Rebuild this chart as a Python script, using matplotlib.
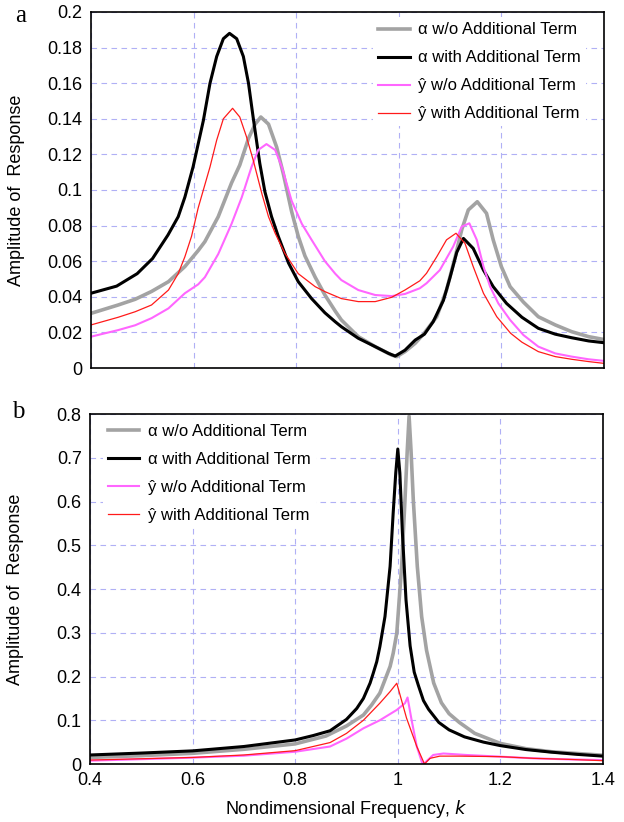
import matplotlib
matplotlib.use("Agg")
import matplotlib.pyplot as plt

plt.rcParams['font.family'] = ['Liberation Sans', 'DejaVu Sans']

# ---- panel a (top) ----
k_a_gray = [0.40, 0.453, 0.486, 0.518, 0.551, 0.583, 0.609, 0.622, 0.648, 0.674, 0.690, 0.707,
            0.720, 0.731, 0.746, 0.762, 0.775, 0.791, 0.804, 0.817, 0.837, 0.856, 0.876, 0.888,
            0.921, 0.954, 0.986, 0.996, 1.012, 1.032, 1.048, 1.074, 1.093, 1.110, 1.1225, 1.1355,
            1.153, 1.171, 1.184, 1.200, 1.217, 1.243, 1.272, 1.305, 1.337, 1.37, 1.40]
amp_a_gray = [0.0307, 0.0354, 0.0386, 0.043, 0.0485, 0.057, 0.066, 0.071, 0.085, 0.104, 0.114, 0.129,
              0.137, 0.141, 0.137, 0.124, 0.109, 0.088, 0.074, 0.063, 0.051, 0.041, 0.032, 0.027,
              0.0176, 0.012, 0.0073, 0.0064, 0.0092, 0.0139, 0.019, 0.0288, 0.0438, 0.0625, 0.0775, 0.0888,
              0.0934, 0.0869, 0.072, 0.0569, 0.0457, 0.037, 0.0288, 0.0242, 0.0204, 0.0176, 0.0160]

k_a_black = [0.40, 0.45, 0.49, 0.52, 0.55, 0.57, 0.583, 0.599, 0.619, 0.632, 0.645, 0.658, 0.670,
             0.684, 0.697, 0.707, 0.716, 0.729, 0.739, 0.752, 0.765, 0.785, 0.804, 0.830, 0.856,
             0.876, 0.888, 0.921, 0.954, 0.980, 0.993, 1.012, 1.032, 1.050, 1.067, 1.087, 1.100,
             1.113, 1.126, 1.145, 1.165, 1.184, 1.210, 1.24, 1.272, 1.305, 1.337, 1.37, 1.40]
amp_a_black = [0.042, 0.046, 0.053, 0.0615, 0.0747, 0.085, 0.096, 0.113, 0.139, 0.160, 0.175, 0.185, 0.188,
               0.185, 0.175, 0.160, 0.141, 0.115, 0.099, 0.085, 0.074, 0.059, 0.0485, 0.039, 0.031,
               0.026, 0.0232, 0.0167, 0.012, 0.0082, 0.0067, 0.010, 0.0157, 0.019, 0.026, 0.038, 0.051,
               0.065, 0.0728, 0.0672, 0.055, 0.0457, 0.0363, 0.0285, 0.0223, 0.0190, 0.0170, 0.0152, 0.0142]

k_a_mag = [0.40, 0.453, 0.486, 0.518, 0.551, 0.583, 0.609, 0.622, 0.648, 0.674, 0.694, 0.713, 0.726,
           0.742, 0.759, 0.772, 0.791, 0.811, 0.830, 0.856, 0.876, 0.888, 0.921, 0.954, 0.986, 1.012,
           1.041, 1.054, 1.080, 1.106, 1.1226, 1.1375, 1.152, 1.165, 1.178, 1.194, 1.217, 1.243, 1.272,
           1.305, 1.337, 1.37, 1.40]
amp_a_mag = [0.0176, 0.0213, 0.024, 0.028, 0.0335, 0.042, 0.047, 0.051, 0.064, 0.081, 0.096, 0.113, 0.1225,
             0.1258, 0.1225, 0.113, 0.094, 0.081, 0.072, 0.060, 0.053, 0.0494, 0.0438, 0.041, 0.0404, 0.0416,
             0.0448, 0.0476, 0.055, 0.0682, 0.0794, 0.0813, 0.072, 0.057, 0.0457, 0.0363, 0.027, 0.0185, 0.012,
             0.0082, 0.0064, 0.0049, 0.0040]

k_a_red = [0.40, 0.453, 0.486, 0.518, 0.551, 0.570, 0.583, 0.596, 0.609, 0.622, 0.632, 0.645, 0.658,
           0.676, 0.690, 0.703, 0.716, 0.733, 0.746, 0.759, 0.778, 0.804, 0.837, 0.856, 0.888, 0.921,
           0.954, 0.986, 1.012, 1.041, 1.054, 1.074, 1.093, 1.1115, 1.129, 1.145, 1.165, 1.191, 1.218,
           1.24, 1.272, 1.305, 1.337, 1.37, 1.40]
amp_a_red = [0.0242, 0.0285, 0.0316, 0.0354, 0.0438, 0.053, 0.0625, 0.074, 0.090, 0.103, 0.113, 0.128, 0.140,
             0.1459, 0.141, 0.130, 0.117, 0.098, 0.085, 0.0757, 0.0644, 0.053, 0.0457, 0.0429, 0.039, 0.0373,
             0.0373, 0.0397, 0.0438, 0.049, 0.0532, 0.0625, 0.072, 0.0757, 0.070, 0.057, 0.042, 0.0288, 0.0195,
             0.0145, 0.0092, 0.0064, 0.0049, 0.0036, 0.0026]

# ---- panel b (bottom) ----
k_b_gray = [0.40, 0.50, 0.60, 0.70, 0.80, 0.86, 0.90, 0.933, 0.949, 0.965, 0.985, 0.991, 0.998, 1.0075,
            1.014, 1.0185, 1.022, 1.0257, 1.0302, 1.038, 1.0465, 1.056, 1.07, 1.085, 1.10, 1.12, 1.15,
            1.20, 1.25, 1.30, 1.35, 1.40]
amp_b_gray = [0.015, 0.019, 0.0244, 0.0336, 0.046, 0.064, 0.087, 0.112, 0.135, 0.162, 0.223, 0.253, 0.299, 0.452,
              0.604, 0.718, 0.795, 0.718, 0.604, 0.452, 0.337, 0.26, 0.185, 0.14, 0.115, 0.095, 0.070,
              0.047, 0.035, 0.028, 0.024, 0.020]

k_b_black = [0.40, 0.50, 0.60, 0.70, 0.80, 0.835, 0.868, 0.90, 0.92, 0.933, 0.946, 0.952, 0.959, 0.965,
             0.975, 0.985, 0.991, 0.996, 1.0, 1.004, 1.009, 1.016, 1.024, 1.032, 1.04, 1.05, 1.06, 1.08,
             1.10, 1.13, 1.167, 1.20, 1.25, 1.30, 1.35, 1.40]
amp_b_black = [0.0206, 0.025, 0.030, 0.040, 0.055, 0.065, 0.076, 0.102, 0.127, 0.150, 0.185, 0.207, 0.234, 0.268,
               0.337, 0.452, 0.574, 0.665, 0.72, 0.665, 0.528, 0.375, 0.27, 0.21, 0.18, 0.145, 0.125, 0.095,
               0.078, 0.062, 0.050, 0.042, 0.033, 0.027, 0.022, 0.018]

k_b_mag = [0.40, 0.50, 0.60, 0.70, 0.80, 0.868, 0.90, 0.933, 0.965, 0.998, 1.014, 1.019, 1.027, 1.037,
           1.047, 1.051, 1.069, 1.089, 1.134, 1.199, 1.264, 1.329, 1.40]
amp_b_mag = [0.0076, 0.011, 0.0145, 0.019, 0.028, 0.040, 0.058, 0.0816, 0.100, 0.1236, 0.139, 0.152, 0.100, 0.040,
             0.004, 0.001, 0.0206, 0.024, 0.0206, 0.0168, 0.013, 0.0107, 0.009]

k_b_red = [0.40, 0.50, 0.60, 0.70, 0.80, 0.868, 0.90, 0.933, 0.965, 0.985, 0.998, 1.017, 1.037, 1.052,
           1.063, 1.082, 1.12, 1.20, 1.264, 1.33, 1.40]
amp_b_red = [0.009, 0.012, 0.015, 0.0206, 0.0305, 0.049, 0.070, 0.100, 0.139, 0.1655, 0.1846, 0.105, 0.040, 0.0,
             0.013, 0.018, 0.018, 0.0168, 0.013, 0.0107, 0.0076]

labels = ['α w/o Additional Term', 'α with Additional Term',
          'ŷ w/o Additional Term', 'ŷ with Additional Term']
styles = [dict(color='#a3a3a3', lw=2.6), dict(color='black', lw=2.2),
          dict(color='#ff66ff', lw=1.5), dict(color='#ff1a1a', lw=0.9)]

fig = plt.figure(figsize=(6.24, 8.22), dpi=100)
ax1 = fig.add_axes([91 / 624, 1 - 368 / 822, 513 / 624, 356 / 822])
ax2 = fig.add_axes([90 / 624, 1 - 764 / 822, 513 / 624, 350 / 822])

series_a = [(k_a_gray, amp_a_gray), (k_a_black, amp_a_black), (k_a_mag, amp_a_mag), (k_a_red, amp_a_red)]
series_b = [(k_b_gray, amp_b_gray), (k_b_black, amp_b_black), (k_b_mag, amp_b_mag), (k_b_red, amp_b_red)]

for ax, series in ((ax1, series_a), (ax2, series_b)):
    for (kk, aa), lab, st in zip(series, labels, styles):
        ax.plot(kk, aa, label=lab, solid_joinstyle='round', **st)
    ax.set_xlim(0.4, 1.4)
    ax.set_xticks([0.4, 0.6, 0.8, 1.0, 1.2, 1.4])
    ax.grid(True, color='#b0b0f5', linestyle=(0, (5, 4)), linewidth=0.8)
    ax.set_axisbelow(True)
    ax.tick_params(length=0, labelsize=13, pad=6)
    for sp in ax.spines.values():
        sp.set_linewidth(1.2)
    ax.set_ylabel('Amplitude of  Response', fontsize=13)
    ax.yaxis.set_label_coords(-0.128, 0.5)

ax1.set_ylim(0, 0.2)
ax1.set_yticks([0, 0.02, 0.04, 0.06, 0.08, 0.1, 0.12, 0.14, 0.16, 0.18, 0.2])
ax1.set_yticklabels(['0', '0.02', '0.04', '0.06', '0.08', '0.1', '0.12', '0.14', '0.16', '0.18', '0.2'])
ax1.set_xticklabels([])

ax2.set_ylim(0, 0.8)
ax2.set_yticks([0, 0.1, 0.2, 0.3, 0.4, 0.5, 0.6, 0.7, 0.8])
ax2.set_yticklabels(['0', '0.1', '0.2', '0.3', '0.4', '0.5', '0.6', '0.7', '0.8'])
ax2.set_xticklabels(['0.4', '0.6', '0.8', '1', '1.2', '1.4'])
ax2.set_xlabel('Nondimensional Frequency, $k$', fontsize=13, labelpad=6)

leg_kw = dict(fontsize=12, frameon=True, facecolor='white', edgecolor='none', framealpha=1,
              handlelength=1.9, handletextpad=0.5, labelspacing=0.78, borderpad=0.3, borderaxespad=0)
ax1.legend(loc='upper right', bbox_to_anchor=(0.965, 0.985), **leg_kw)
ax2.legend(loc='upper left', bbox_to_anchor=(0.025, 0.985), **leg_kw)

fig.text(15 / 624, 1 - 22 / 822, 'a', fontsize=18, family='Liberation Serif', va='baseline')
fig.text(12 / 624, 1 - 418 / 822, 'b', fontsize=18, family='Liberation Serif', va='baseline')

fig.savefig('out.png', dpi=100)
